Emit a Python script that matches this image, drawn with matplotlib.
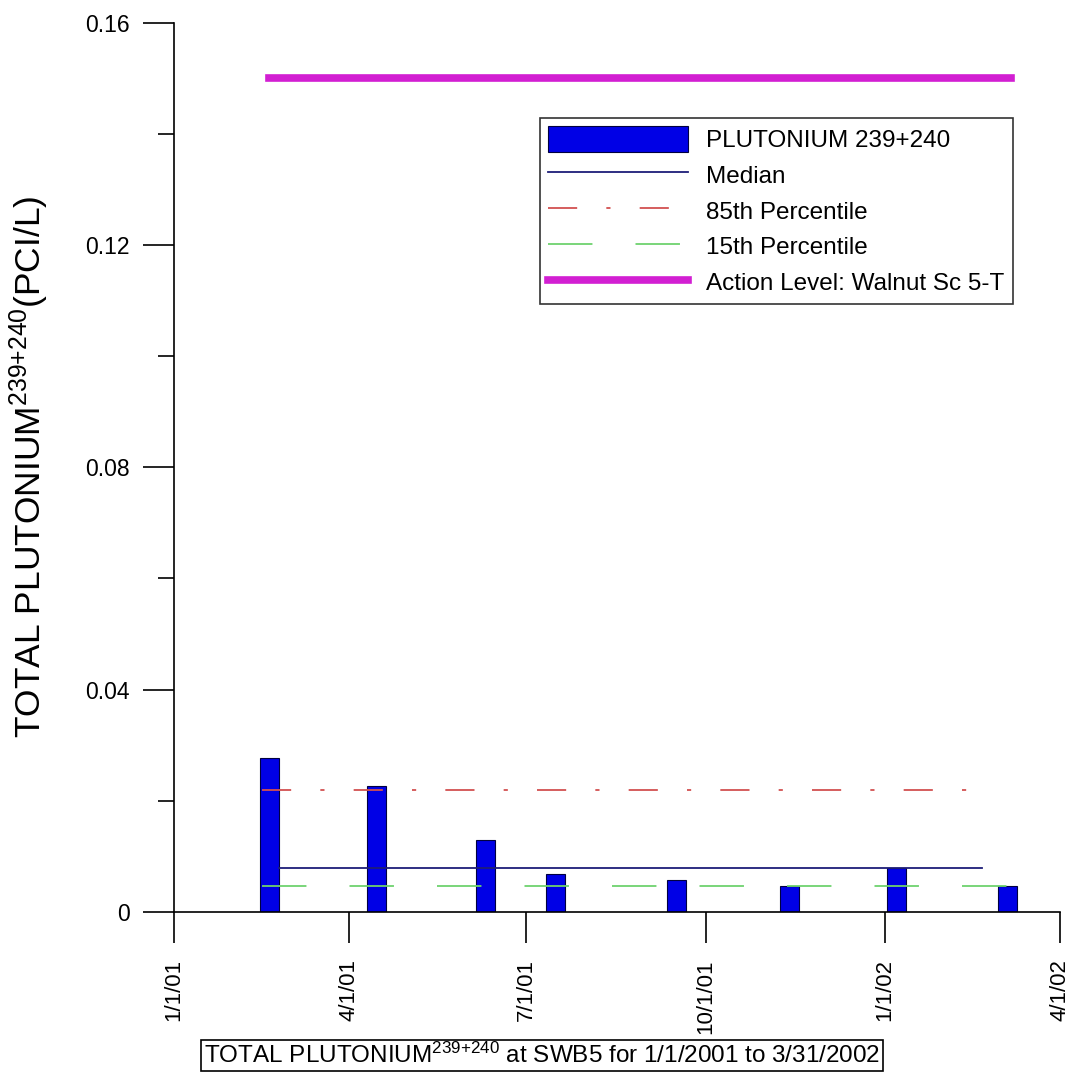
import pandas as pd
import matplotlib
matplotlib.use("Agg")
import matplotlib.pyplot as plt

plt.rcParams['font.family'] = ['Liberation Sans', 'DejaVu Sans']
plt.rcParams['mathtext.default'] = 'regular'
plt.rcParams['lines.scale_dashes'] = False

# sample dates and Pu 239+240 results (pCi/L)
dates = pd.to_datetime(['2001-02-19', '2001-04-15', '2001-06-10', '2001-07-16',
                        '2001-09-16', '2001-11-13', '2002-01-07', '2002-03-05'])
values = [0.0277, 0.0227, 0.0130, 0.0068, 0.0058, 0.0047, 0.0079, 0.0047]

median = 0.0079
pct85 = 0.0220
pct15 = 0.0047
action_level = 0.150

median_span = pd.to_datetime(['2001-02-24', '2002-02-20'])
pct85_span = pd.to_datetime(['2001-02-15', '2002-02-24'])
pct15_span = pd.to_datetime(['2001-02-15', '2002-03-08'])
action_span = pd.to_datetime(['2001-02-19', '2002-03-07'])

xticks = pd.to_datetime(['2001-01-01', '2001-04-01', '2001-07-01', '2001-10-01',
                         '2002-01-01', '2002-04-01'])
xlabels = ['1/1/01', '4/1/01', '7/1/01', '10/1/01', '1/1/02', '4/1/02']

fig = plt.figure(figsize=(10.74, 10.74), dpi=100)
ax = fig.add_axes([0.162, 0.151, 0.825, 0.828])

bars = ax.bar(dates, values, width=9.5, color='#0000e6', edgecolor='#000040', linewidth=0.8,
              label='PLUTONIUM 239+240', zorder=2)
l_med, = ax.plot(median_span, [median, median], color='#1e1e78', linewidth=1.3,
                 label='Median', zorder=3)
l_85, = ax.plot(pct85_span, [pct85, pct85], color='#d25050', linewidth=1.3,
                dashes=(21, 21, 3, 21), label='85th Percentile', zorder=3)
l_15, = ax.plot(pct15_span, [pct15, pct15], color='#6ed26e', linewidth=1.3,
                dashes=(32, 31), label='15th Percentile', zorder=3)
l_act, = ax.plot(action_span, [action_level, action_level], color='#d21fd2',
                 linewidth=5.5, label='Action Level: Walnut Sc 5-T', zorder=3)

ax.set_xlim(xticks[0], xticks[-1])
ax.set_ylim(0, 0.16)
ax.set_xticks(xticks)
ax.set_xticklabels(xlabels, rotation=90, fontsize=16)
ax.set_yticks([0, 0.04, 0.08, 0.12, 0.16])
ax.set_yticklabels(['0', '0.04', '0.08', '0.12', '0.16'], fontsize=16.5)
ax.set_yticks([0.02, 0.06, 0.10, 0.14], minor=True)
ax.tick_params(axis='x', length=22, width=1.2, pad=12)
ax.tick_params(axis='y', which='major', length=22, width=1.2, pad=10)
ax.tick_params(axis='y', which='minor', length=11.5, width=1.2)

ax.spines['top'].set_visible(False)
ax.spines['right'].set_visible(False)
ax.spines['left'].set_linewidth(1.2)
ax.spines['bottom'].set_linewidth(1.2)

ax.set_ylabel('TOTAL PLUTONIUM$^{239{+}240}$(PCI/L)', fontsize=25.5)
ax.yaxis.set_label_coords(-0.139, 0.5)

leg = ax.legend([bars, l_med, l_85, l_15, l_act],
                ['PLUTONIUM 239+240', 'Median', '85th Percentile', '15th Percentile',
                 'Action Level: Walnut Sc 5-T'],
                loc='upper right', bbox_to_anchor=(0.947, 0.893), fontsize=17.5,
                handlelength=5.75, handleheight=1.25, frameon=True, fancybox=False,
                edgecolor='black', borderpad=0.35, labelspacing=0.4, handletextpad=0.75,
                borderaxespad=0)
leg.get_frame().set_linewidth(1.2)

fig.text(0.505, 0.0175, 'TOTAL PLUTONIUM$^{239{+}240}$ at SWB5 for 1/1/2001 to 3/31/2002',
         ha='center', va='center', fontsize=17.5,
         bbox=dict(boxstyle='square,pad=0.12', facecolor='white', edgecolor='black',
                   linewidth=1.2))

fig.savefig('out.png', dpi=100)
